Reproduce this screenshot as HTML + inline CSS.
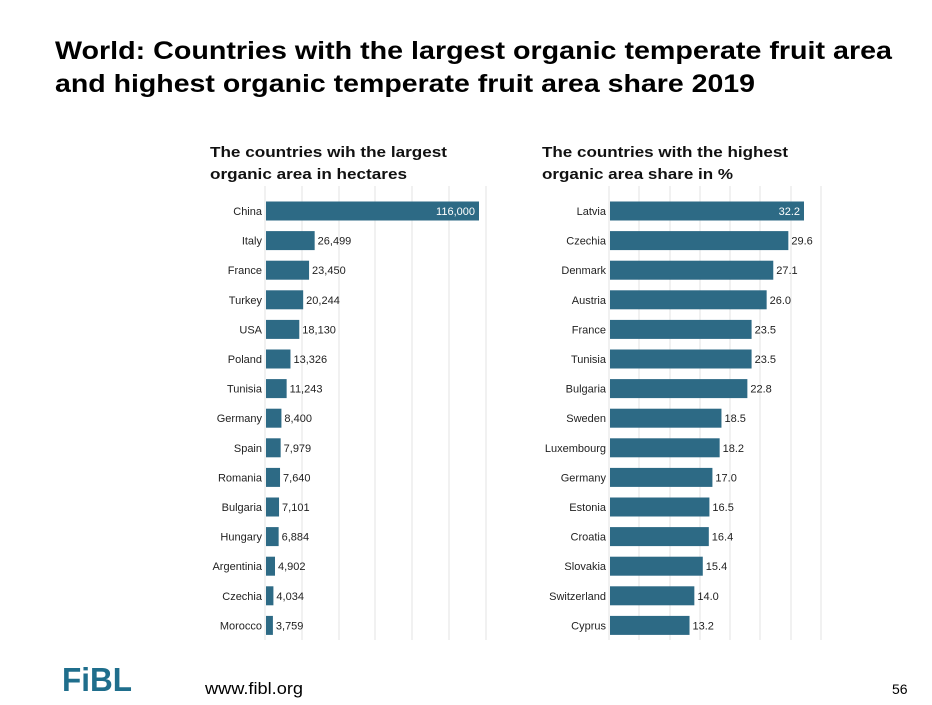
<!DOCTYPE html>
<html><head><style>
body{margin:0;background:#fff;width:932px;height:705px;overflow:hidden;position:relative;font-family:"Liberation Sans",sans-serif}
</style></head><body>
<svg width="932" height="705" style="position:absolute;left:0;top:0" font-family="Liberation Sans, sans-serif">
<g font-weight="bold" font-size="25" fill="#000">
<text x="55" y="59" textLength="837" lengthAdjust="spacingAndGlyphs">World: Countries with the largest organic temperate fruit area</text>
<text x="55" y="92" textLength="700" lengthAdjust="spacingAndGlyphs">and highest organic temperate fruit area share 2019</text>
</g>
<g font-weight="bold" font-size="15" fill="#111">
<text x="210" y="157" textLength="237" lengthAdjust="spacingAndGlyphs">The countries wih the largest</text>
<text x="210" y="179" textLength="197" lengthAdjust="spacingAndGlyphs">organic area in hectares</text>
<text x="542" y="157" textLength="246" lengthAdjust="spacingAndGlyphs">The countries with the highest</text>
<text x="542" y="179" textLength="191" lengthAdjust="spacingAndGlyphs">organic area share in %</text>
</g>
<g stroke="#e3e3e3" stroke-width="1">
<line x1="265" y1="186" x2="265" y2="640"/><line x1="302" y1="186" x2="302" y2="640"/><line x1="339" y1="186" x2="339" y2="640"/><line x1="375" y1="186" x2="375" y2="640"/><line x1="412" y1="186" x2="412" y2="640"/><line x1="449" y1="186" x2="449" y2="640"/><line x1="486" y1="186" x2="486" y2="640"/>
<line x1="609" y1="186" x2="609" y2="640"/><line x1="639" y1="186" x2="639" y2="640"/><line x1="670" y1="186" x2="670" y2="640"/><line x1="700" y1="186" x2="700" y2="640"/><line x1="730" y1="186" x2="730" y2="640"/><line x1="760" y1="186" x2="760" y2="640"/><line x1="791" y1="186" x2="791" y2="640"/><line x1="821" y1="186" x2="821" y2="640"/>
</g>
<g id="L" font-size="11" fill="#222"></g>
<g id="R" font-size="11" fill="#222"></g>
<text x="205" y="694" font-size="17" fill="#000" textLength="98" lengthAdjust="spacingAndGlyphs">www.fibl.org</text>
<text x="892" y="694" font-size="14" fill="#000">56</text>
<text x="62" y="691" font-size="33" font-weight="bold" fill="#1f6e8c" textLength="70" lengthAdjust="spacingAndGlyphs">FiBL</text>
</svg>
<script>
var L=[["China",116000],["Italy",26499],["France",23450],["Turkey",20244],["USA",18130],["Poland",13326],["Tunisia",11243],["Germany",8400],["Spain",7979],["Romania",7640],["Bulgaria",7101],["Hungary",6884],["Argentinia",4902],["Czechia",4034],["Morocco",3759]];
var R=[["Latvia","32.2"],["Czechia","29.6"],["Denmark","27.1"],["Austria","26.0"],["France","23.5"],["Tunisia","23.5"],["Bulgaria","22.8"],["Sweden","18.5"],["Luxembourg","18.2"],["Germany","17.0"],["Estonia","16.5"],["Croatia","16.4"],["Slovakia","15.4"],["Switzerland","14.0"],["Cyprus","13.2"]];
function draw(id,data,x0,sc,fmt){var g=document.getElementById(id),s="";
data.forEach(function(d,i){var y=211+i*29.6,w=parseFloat(d[1])*sc;
s+='<text x="'+(x0-4)+'" y="'+(y+4)+'" text-anchor="end">'+d[0]+'</text>';
s+='<rect x="'+x0+'" y="'+(y-9.5)+'" width="'+w+'" height="19" fill="#2d6a85"/>';
var v=fmt(d[1]);
if(i==0)s+='<text x="'+(x0+w-4)+'" y="'+(y+4)+'" text-anchor="end" fill="#fff">'+v+'</text>';
else s+='<text x="'+(x0+w+3)+'" y="'+(y+4)+'">'+v+'</text>';});
g.innerHTML=s;}
draw("L",L,266,213/116000,function(v){return v.toLocaleString("en-US")});
draw("R",R,610,194/32.2,function(v){return v});
</script>
</body></html>
